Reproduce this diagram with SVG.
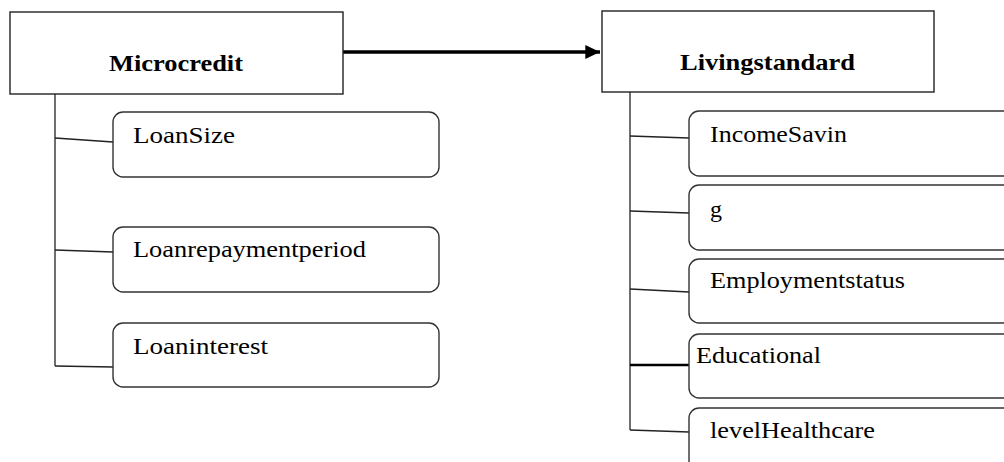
<svg xmlns="http://www.w3.org/2000/svg" width="1004" height="462" viewBox="0 0 1004 462">
<style>
.main{fill:#fff;stroke:#222;stroke-width:1.4}
.sub{fill:#fff;stroke:#333;stroke-width:1.4}
.ln{stroke:#222;stroke-width:1.3;fill:none}
.t{font-family:"Liberation Serif",serif;font-size:24px;fill:#000}
.b{font-weight:bold}
</style>
<defs>
<marker id="ah" markerWidth="4.2" markerHeight="4" refX="4.2" refY="2" orient="auto" markerUnits="strokeWidth">
<path d="M0,0 L4.2,2 L0,4 Z" fill="#000"/>
</marker>
</defs>
<g id="connectors">
<line x1="343" y1="52" x2="600" y2="52" stroke="#000" stroke-width="3.5" marker-end="url(#ah)"/>
<path class="ln" d="M55,94 V366"/>
<path class="ln" d="M55,138 L113,142"/>
<path class="ln" d="M55,250 L113,252"/>
<path class="ln" d="M55,366 L113,367"/>
<path class="ln" d="M630,92 V430"/>
<path class="ln" d="M630,136 L689,138"/>
<path class="ln" d="M630,211 L689,213"/>
<path class="ln" d="M630,289 L689,292"/>
<path d="M630,365 L696,365" stroke="#000" stroke-width="2.5"/>
<path class="ln" d="M630,430 L689,432"/>
</g>
<g id="microcredit">
<rect class="main" x="10" y="12" width="333" height="82"/>
<text class="t b" x="109" y="71" textLength="134" lengthAdjust="spacingAndGlyphs">Microcredit</text>
</g>
<g id="livingstandard">
<rect class="main" x="602" y="11" width="332" height="81"/>
<text class="t b" x="680" y="70" textLength="175" lengthAdjust="spacingAndGlyphs">Livingstandard</text>
</g>
<g id="loansize">
<rect class="sub" x="113" y="112" width="326" height="65" rx="10"/>
<text class="t" x="133" y="143" textLength="102" lengthAdjust="spacingAndGlyphs">LoanSize</text>
</g>
<g id="loanrepayment">
<rect class="sub" x="113" y="227" width="326" height="65" rx="10"/>
<text class="t" x="133" y="257" textLength="233" lengthAdjust="spacingAndGlyphs">Loanrepaymentperiod</text>
</g>
<g id="loaninterest">
<rect class="sub" x="113" y="323" width="326" height="64" rx="10"/>
<text class="t" x="133" y="354" textLength="135" lengthAdjust="spacingAndGlyphs">Loaninterest</text>
</g>
<g id="incomesavin">
<rect class="sub" x="689" y="111" width="330" height="65" rx="10"/>
<text class="t" x="710" y="142" textLength="137" lengthAdjust="spacingAndGlyphs">IncomeSavin</text>
</g>
<g id="g">
<rect class="sub" x="689" y="185" width="330" height="65" rx="10"/>
<text class="t" x="710" y="217">g</text>
</g>
<g id="employment">
<rect class="sub" x="689" y="259" width="330" height="64" rx="10"/>
<text class="t" x="710" y="288" textLength="195" lengthAdjust="spacingAndGlyphs">Employmentstatus</text>
</g>
<g id="educational">
<rect class="sub" x="689" y="334" width="330" height="64" rx="10"/>
<text class="t" x="696" y="363" textLength="125" lengthAdjust="spacingAndGlyphs">Educational</text>
</g>
<g id="healthcare">
<rect class="sub" x="689" y="408" width="330" height="64" rx="10"/>
<text class="t" x="710" y="438" textLength="165" lengthAdjust="spacingAndGlyphs">levelHealthcare</text>
</g>
</svg>
